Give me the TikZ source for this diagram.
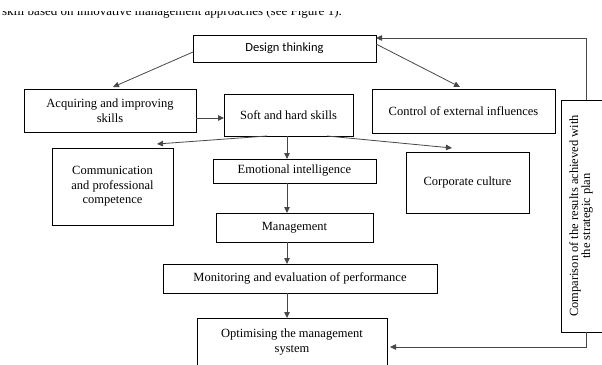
\documentclass[tikz,border=0pt]{standalone}
\usepackage{fontspec}
\setmainfont{Liberation Serif}
\newfontfamily\calib{Carlito}
\usetikzlibrary{arrows.meta}
\begin{document}
\begin{tikzpicture}[x=1pt,y=-1pt,
  box/.style={draw=black,line width=0.8pt,inner sep=0pt,outer sep=0pt,align=center,
    font=\fontsize{12.5}{14.5}\selectfont},
  conn/.style={draw=black!72,line width=0.8pt,-{Triangle[length=6pt,width=5.5pt]}},
]
\fill[white] (0,0) rectangle (602,364);
\useasboundingbox (0,0) rectangle (602,364);

% clipped line of running text at the very top
\begin{scope}
\clip (0,11) rectangle (602,22);
\node[anchor=base east,inner sep=0pt,font=\fontsize{13}{15}\selectfont] (toptext) at (342,15.5)
  {skill based on innovative management approaches (see Figure 1).};
\end{scope}

\begin{scope}
\clip (0,0) rectangle (602,364);
\node[box,minimum width=183pt,minimum height=27pt,font=\calib\fontsize{12.5}{14.5}\selectfont] (design) at (284.5,48.5) {Design thinking};
\node[box,minimum width=172pt,minimum height=43pt] (acq) at (110,110.5) {Acquiring and improving\\skills};
\node[box,minimum width=129pt,minimum height=42pt] (soft) at (288.5,115) {Soft and hard skills};
\node[box,minimum width=183pt,minimum height=44pt] (control) at (463.5,111) {Control of external influences};
\node[box,minimum width=121pt,minimum height=77pt] (comm) at (112.5,186.5) {Communication\\and professional\\competence};
\node[box,minimum width=163pt,minimum height=24pt] (emo) at (294.5,171) {Emotional intelligence};
\node[box,minimum width=123pt,minimum height=61pt] (corp) at (467.5,182.5) {Corporate culture};
\node[box,minimum width=157pt,minimum height=29pt] (mgmt) at (294.5,227.5) {Management};
\node[box,minimum width=274pt,minimum height=29pt] (mon) at (300,278.5) {Monitoring and evaluation of performance};
\node[box,minimum width=190pt,minimum height=48pt] (opt) at (292,342) {Optimising the management\\system};
\node[box,minimum width=50pt,minimum height=232pt] (comp) at (586,216) {};
\node[rotate=90,align=center,inner sep=0pt,font=\fontsize{12.5}{12}\selectfont] (comptext) at (581,216)
  {Comparison of the results achieved with\\the strategic plan};

% connectors
\draw[conn] ([yshift=-3.5pt]design.west) -- ([xshift=3pt,yshift=2pt]acq.north);
\draw[conn] ([yshift=4.5pt]design.east) -- ([xshift=-3.5pt,yshift=2pt]control.north);
\draw[conn] ([yshift=-7.5pt]acq.east) -- ([yshift=-7.5pt]acq.east -| soft.west);
\draw[conn] ([xshift=-21.5pt]soft.south) -- ([xshift=44.5pt,yshift=4pt]comm.north);
\draw[conn] ([xshift=-1.5pt]soft.south) -- ([xshift=-1.5pt]soft.south |- emo.north);
\draw[conn] ([xshift=38.5pt]soft.south) -- ([xshift=-15.5pt,yshift=4pt]corp.north);
\draw[conn] ([xshift=-7.5pt]emo.south) -- ([xshift=-7.5pt]emo.south |- mgmt.north);
\draw[conn] ([xshift=-7.5pt]mgmt.south) -- ([xshift=-7.5pt]mgmt.south |- mon.north);
\draw[conn] ([xshift=-13pt]mon.south) -- ([xshift=-13pt]mon.south |- opt.north);
\draw[conn] (comp.north) |- ([yshift=10.5pt]design.east);
\draw[conn] (comp.south) |- ([xshift=3pt,yshift=-5pt]opt.east);
\end{scope}
\end{tikzpicture}
\end{document}
